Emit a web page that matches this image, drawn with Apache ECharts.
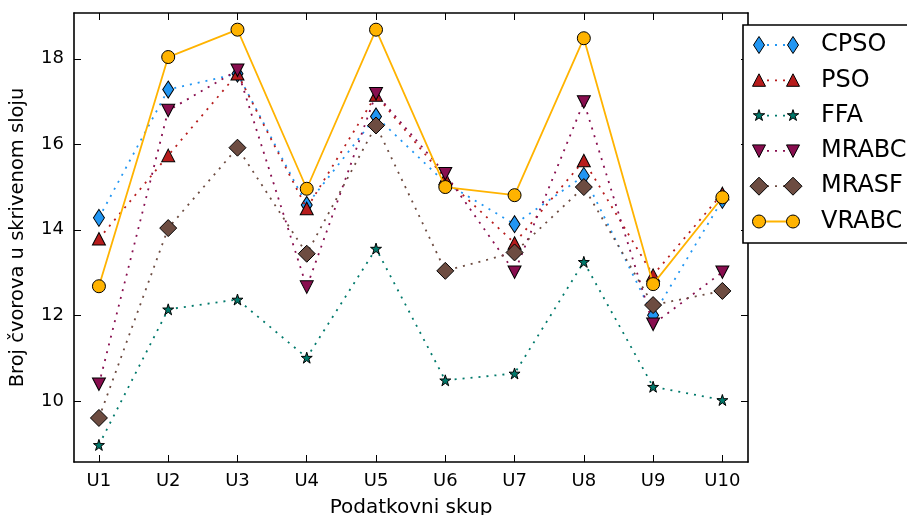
<!DOCTYPE html>
<html>
<head>
<meta charset="utf-8">
<script src="https://cdn.jsdelivr.net/npm/echarts@6/dist/echarts.min.js"></script>
<style>
  html, body { margin: 0; padding: 0; background: #fff; }
  #chart { width: 907px; height: 515px; }
</style>
</head>
<body>
<div id="chart"></div>
<script>
// podaci
const categories = ['U1', 'U2', 'U3', 'U4', 'U5', 'U6', 'U7', 'U8', 'U9', 'U10']
const yTicks = [10, 12, 14, 16, 18]

const cpso  = [14.28, 17.28, 17.65, 14.58, 16.65, 15.10, 14.13, 15.26, 12.00, 14.70]
const pso   = [13.79, 15.74, 17.65, 14.50, 17.15, 15.20, 13.69, 15.62, 12.94, 14.85]
const ffa   = [8.97, 12.14, 12.37, 11.01, 13.56, 10.48, 10.64, 13.25, 10.33, 10.02]
const mrabc = [10.39, 16.79, 17.73, 12.66, 17.18, 15.31, 13.01, 16.99, 11.79, 13.01]
const mrasf = [9.60, 14.04, 15.92, 13.44, 16.44, 13.04, 13.47, 15.00, 12.24, 12.57]
const vrabc = [12.68, 18.04, 18.68, 14.96, 18.68, 15.00, 14.81, 18.48, 12.73, 14.76]

const seriesNames = ['CPSO', 'PSO', 'FFA', 'MRABC', 'MRASF', 'VRABC']
const seriesValues = [cpso, pso, ffa, mrabc, mrasf, vrabc]

// stilovi
const starPath = 'path://M50 0L61.23 34.55L97.55 34.55L68.17 55.9L79.39 90.45L50 69.1L20.61 90.45L31.83 55.9L2.45 34.55L38.77 34.55Z'
const styles = [
  { color: '#2196F3', kind: 'thinDiamond', symbol: 'diamond', size: [11, 17], dotted: true },
  { color: '#B71C1C', kind: 'triUp', symbol: 'triangle', size: [13, 12.5], dotted: true },
  { color: '#00796B', kind: 'star', symbol: starPath, size: [11, 11], dotted: true },
  { color: '#880E4F', kind: 'triDown', symbol: 'triangle', size: [13, 12.5], rotate: 180, dotted: true },
  { color: '#6D4C41', kind: 'diamond', symbol: 'diamond', size: [17, 17], dotted: true },
  { color: '#FFB300', kind: 'circle', symbol: 'circle', size: 13, dotted: false }
]

const xTicks = categories.map((c, i) => i + 1)
const xMin = 0.64, xMax = 10.37
const yMin = 8.57, yMax = 19.07
const font = 'DejaVu Sans'

const axisLine = { show: true, onZero: false, lineStyle: { color: '#000', width: 1.6 } }

const makeX = (pos, main) => ({
  type: 'value',
  position: pos,
  min: xMin,
  max: xMax,
  name: main ? 'Podatkovni skup' : '',
  nameLocation: 'middle',
  nameGap: 36,
  nameTextStyle: { fontSize: 20, color: '#000', fontFamily: font },
  axisLine: axisLine,
  axisTick: { show: true, inside: true, length: 7, customValues: xTicks, lineStyle: { color: '#000', width: 1 } },
  axisLabel: {
    show: main,
    customValues: xTicks,
    formatter: v => categories[Math.round(v) - 1],
    fontSize: 18,
    color: '#000',
    fontFamily: font,
    margin: 10
  },
  splitLine: { show: false }
})

const makeY = (pos, main) => ({
  type: 'value',
  position: pos,
  min: yMin,
  max: yMax,
  name: main ? 'Broj čvorova u skrivenom sloju' : '',
  nameLocation: 'middle',
  nameGap: 46,
  nameTextStyle: { fontSize: 19.5, color: '#000', fontFamily: font },
  axisLine: axisLine,
  axisTick: { show: true, inside: true, length: 7, customValues: yTicks, lineStyle: { color: '#000', width: 1 } },
  axisLabel: {
    show: main,
    customValues: yTicks,
    fontSize: 18,
    color: '#000',
    fontFamily: font,
    margin: 10
  },
  splitLine: { show: false }
})

// oblici za legendu
const markerPoints = (kind, cx, cy) => {
  if (kind === 'thinDiamond') return [[cx, cy - 8.5], [cx + 5.5, cy], [cx, cy + 8.5], [cx - 5.5, cy]]
  if (kind === 'diamond') return [[cx, cy - 9], [cx + 9, cy], [cx, cy + 9], [cx - 9, cy]]
  if (kind === 'triUp') return [[cx, cy - 6.5], [cx + 6.5, cy + 6], [cx - 6.5, cy + 6]]
  if (kind === 'triDown') return [[cx, cy + 6.5], [cx + 6.5, cy - 6], [cx - 6.5, cy - 6]]
  if (kind === 'star') {
    const pts = []
    for (let k = 0; k < 10; k++) {
      const a = (-90 + 36 * k) * Math.PI / 180
      const r = k % 2 ? 2.3 : 6
      pts.push([cx + r * Math.cos(a), cy + r * Math.sin(a)])
    }
    return pts
  }
  return null
}

const legendMarker = (st, cx, cy) => {
  if (st.kind === 'circle') {
    return { type: 'circle', shape: { cx: cx, cy: cy, r: 6.5 }, style: { fill: st.color, stroke: '#000', lineWidth: 1 } }
  }
  return { type: 'polygon', shape: { points: markerPoints(st.kind, cx, cy) }, style: { fill: st.color, stroke: '#000', lineWidth: 1 } }
}

const legendElements = [
  { type: 'rect', shape: { x: 743, y: 25, width: 200, height: 218 }, style: { fill: '#fff', stroke: '#000', lineWidth: 1.6 } }
]
seriesNames.forEach((name, i) => {
  const st = styles[i]
  const cy = 45 + i * 35.3
  legendElements.push({
    type: 'line',
    shape: { x1: 759, y1: cy, x2: 793, y2: cy },
    style: { stroke: st.color, lineWidth: 1.8, lineDash: st.dotted ? [2, 6] : null }
  })
  legendElements.push(legendMarker(st, 759, cy))
  legendElements.push(legendMarker(st, 793, cy))
  legendElements.push({
    type: 'text',
    x: 821,
    y: cy,
    style: { text: name, fill: '#000', font: '24px "DejaVu Sans"', verticalAlign: 'middle', align: 'left' }
  })
})

const chart = echarts.init(document.getElementById('chart'))

const option = {
  animation: false,
  textStyle: { fontFamily: font },
  grid: { left: 74, top: 13, right: 159, bottom: 53, outerBoundsMode: 'none', containLabel: false },
  xAxis: [makeX('bottom', true), makeX('top', false)],
  yAxis: [makeY('left', true), makeY('right', false)],
  series: seriesNames.map((name, i) => ({
    name: name,
    type: 'line',
    z: 2 + i,
    xAxisIndex: 0,
    yAxisIndex: 0,
    data: seriesValues[i].map((v, j) => [j + 1, v]),
    symbol: styles[i].symbol,
    symbolSize: styles[i].size,
    symbolRotate: styles[i].rotate || 0,
    showAllSymbol: true,
    itemStyle: { color: styles[i].color, borderColor: '#000', borderWidth: 1 },
    lineStyle: { color: styles[i].color, width: 1.8, type: styles[i].dotted ? [2, 6] : 'solid' },
    emphasis: { disabled: true }
  })),
  graphic: { elements: legendElements.map(el => Object.assign({ z: 100 }, el)) }
}

chart.setOption(option)
</script>
</body>
</html>
